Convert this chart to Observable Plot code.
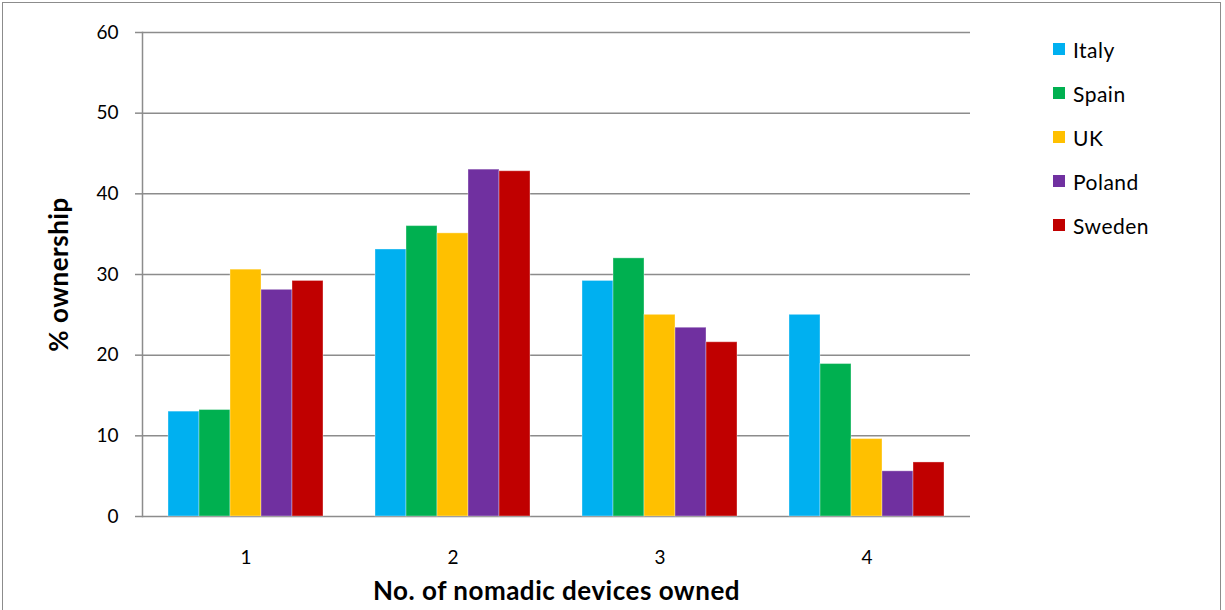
<!DOCTYPE html>
<html>
<head>
<meta charset="utf-8">
<script src="https://cdn.jsdelivr.net/npm/d3@7"></script>
<script src="https://cdn.jsdelivr.net/npm/@observablehq/plot@0.6"></script>
<style>
  html, body { margin: 0; padding: 0; background: #fff; overflow: hidden; }
  #wrap { position: relative; width: 1225px; height: 610px; font-family: Lato, "Open Sans", sans-serif; }
  #border { position: absolute; left: 2px; top: 2px; width: 1219px; height: 620px; border: 1px solid #8c8c8c; box-sizing: border-box; pointer-events: none; }
  #legend { position: absolute; left: 1053px; top: 0; }
  .item { position: absolute; left: 0; white-space: nowrap; display: flex; align-items: center; font-size: 21px; letter-spacing: 0.5px; color: #000; }
  .sw { width: 12px; height: 12px; margin-right: 8px; }
  .title { letter-spacing: 0.5px; }
</style>
</head>
<body>
<div id="wrap"><div id="border"></div><div id="legend"></div></div>
<script>
const categories = ["1", "2", "3", "4"];
const countries = ["Italy", "Spain", "UK", "Poland", "Sweden"];
const colors = ["#00B0F0", "#00B050", "#FFC000", "#7030A0", "#C00000"];
const italy  = [13.0, 33.1, 29.2, 25.0];
const spain  = [13.2, 36.0, 32.0, 18.9];
const uk     = [30.6, 35.1, 25.0, 9.6];
const poland = [28.1, 43.0, 23.4, 5.6];
const sweden = [29.2, 42.8, 21.6, 6.7];
const yTicks = [0, 10, 20, 30, 40, 50, 60];
const yTitle = "% ownership";
const xTitle = "No. of nomadic devices owned";

const series = [italy, spain, uk, poland, sweden];
const data = [];
categories.forEach((c, i) => {
  countries.forEach((k, j) => data.push({cat: c, country: k, value: series[j][i]}));
});

const chart = Plot.plot({
  width: 1225,
  height: 610,
  marginLeft: 141,
  marginRight: 254,
  marginTop: 32,
  marginBottom: 94,
  style: {fontFamily: "Lato, 'Open Sans', sans-serif", fontSize: "19px", color: "#000", background: "transparent"},
  fx: {domain: categories, padding: 0, label: null},
  x: {domain: countries, paddingInner: 0, paddingOuter: 0.79, axis: null},
  y: {domain: [0, 60], label: null},
  color: {domain: countries, range: colors},
  marks: [
    Plot.gridY(yTicks, {stroke: "#8c8c8c", strokeOpacity: 1, strokeWidth: 1.5}),
    Plot.axisY(yTicks, {tickSize: 7, tickPadding: 17, stroke: "#8c8c8c", strokeWidth: 1.5, label: null}),
    Plot.frame({anchor: "left", stroke: "#8c8c8c", strokeWidth: 1.5, facet: "super"}),
    Plot.barY(data, {fx: "cat", x: "country", y: "value", fill: "country", stroke: "#fff", strokeOpacity: 0.35, strokeWidth: 1}),
    Plot.axisFx({anchor: "bottom", tickSize: 0, tickPadding: 34, label: null}),
    Plot.text([yTitle], {frameAnchor: "left", dx: -83, rotate: -90, textAnchor: "middle", lineAnchor: "middle", fontWeight: "bold", fontSize: 26, facet: "super", className: "title"}),
    Plot.text([xTitle], {frameAnchor: "bottom", dy: 75, textAnchor: "middle", lineAnchor: "middle", fontWeight: "bold", fontSize: 26, facet: "super", className: "title"})
  ]
});
document.getElementById("wrap").insertBefore(chart, document.getElementById("border"));

const legend = document.getElementById("legend");
countries.forEach((k, i) => {
  const it = document.createElement("div");
  it.className = "item";
  it.style.top = (49 + i * 44 - 12) + "px";
  it.style.height = "24px";
  const sw = document.createElement("div");
  sw.className = "sw";
  sw.style.background = colors[i];
  const t = document.createElement("span");
  t.textContent = k;
  it.appendChild(sw); it.appendChild(t);
  legend.appendChild(it);
});
</script>
</body>
</html>
